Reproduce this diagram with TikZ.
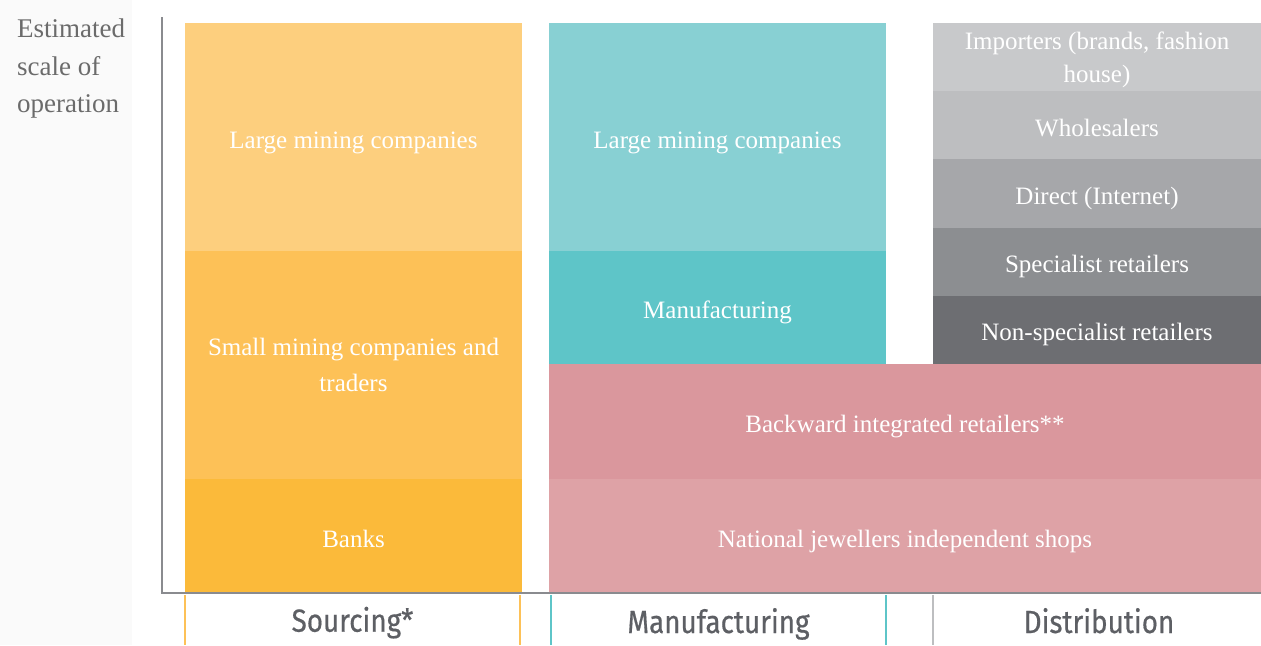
\documentclass[tikz,border=0pt]{standalone}
\usepackage{fontspec}
\setmainfont{Liberation Serif}
\newfontfamily\axisfont[FakeStretch=0.87,FakeBold=0.5]{Fira Sans}
\usetikzlibrary{positioning}

\definecolor{sand1}{HTML}{FDCF7E}
\definecolor{sand2}{HTML}{FDC157}
\definecolor{sand3}{HTML}{FBBA3A}
\definecolor{teal1}{HTML}{88D0D3}
\definecolor{teal2}{HTML}{5EC5C8}
\definecolor{rose1}{HTML}{DA979D}
\definecolor{rose2}{HTML}{DEA2A6}
\definecolor{grey1}{HTML}{C8C9CB}
\definecolor{grey2}{HTML}{BDBEC0}
\definecolor{grey3}{HTML}{A6A7AA}
\definecolor{grey4}{HTML}{8C8E91}
\definecolor{grey5}{HTML}{6D6E72}
\definecolor{axisgrey}{HTML}{8A8B8F}
\definecolor{labelgrey}{HTML}{5D5F64}
\definecolor{sidegrey}{HTML}{6B6B6B}

\begin{document}
\begin{tikzpicture}[
    x=0.5pt, y=-0.5pt,
    block/.style = {inner sep=0pt, outer sep=0pt, text=white, align=center,
      font=\fontsize{12.5}{18}\selectfont},
    oneline/.style = {text height=12pt, text depth=1pt},
    srcbox/.style  = {block, minimum width=168.5pt},
    mfgbox/.style  = {block, minimum width=168.5pt},
    retbox/.style  = {block, oneline, minimum width=356pt},
    distbox/.style = {block, minimum width=164pt, minimum height=34.1pt},
    phase/.style   = {font=\axisfont\fontsize{16}{18}\selectfont, text=labelgrey,
      text height=12pt, text depth=3pt},
    tick/.style    = {line width=1pt}
  ]
  % page and side panel
  \fill[white] (0,0) rectangle (1261,645);
  \fill[black!2] (0,0) rectangle (132,645);
  \useasboundingbox (0,0) rectangle (1261,645);

  \node[anchor=north west, align=left, text=sidegrey,
    font=\fontsize{13.5}{18.7}\selectfont] (scale) at (10,12)
    {Estimated\\scale of\\operation};

  % sourcing
  \node[srcbox, oneline, fill=sand1, minimum height=114pt, anchor=north west] (src1) at (185,23)
    {Large mining companies};
  \node[srcbox, fill=sand2, minimum height=114pt, below=0pt of src1] (src2)
    {Small mining companies and\\traders};
  \node[srcbox, oneline, fill=sand3, minimum height=57pt, below=0pt of src2] (src3)
    {Banks};

  % manufacturing
  \node[mfgbox, oneline, fill=teal1, minimum height=114pt, anchor=north west] (mfg1) at (549,23)
    {Large mining companies};
  \node[mfgbox, oneline, fill=teal2, minimum height=56.5pt, below=0pt of mfg1] (mfg2)
    {Manufacturing};

  % retailers across both columns
  \node[retbox, fill=rose1, minimum height=57.5pt, anchor=north west] (ret1)
    at (mfg2.south west) {Backward integrated retailers**};
  \node[retbox, fill=rose2, minimum height=57pt, below=0pt of ret1] (ret2)
    {National jewellers independent shops};

  % distribution
  \node[distbox, fill=grey1, anchor=north west,
    font=\fontsize{12.5}{16.5}\selectfont] (dst1) at (933,23)
    {\rule{0pt}{12pt}Importers (brands, fashion\\house)};
  \node[distbox, oneline, fill=grey2, below=0pt of dst1] (dst2) {Wholesalers};
  \node[distbox, oneline, fill=grey3, below=0pt of dst2] (dst3) {Direct (Internet)};
  \node[distbox, oneline, fill=grey4, below=0pt of dst3] (dst4) {Specialist retailers};
  \node[distbox, oneline, fill=grey5, below=0pt of dst4] (dst5) {Non-specialist retailers};

  % axes
  \coordinate (top) at (162,17);
  \coordinate (origin) at (162,593);
  \coordinate (right) at (1261,593);
  \draw[axisgrey, line width=1pt] (top) -- (origin) -- (right);

  % phase brackets
  \draw[tick, sand2] (185,595) -- (185,645) (520,595) -- (520,645);
  \draw[tick, teal2] (551,595) -- (551,645) (886,595) -- (886,645);
  \draw[tick, grey2] (933,595) -- (933,645);

  \node[phase] (sourcing) at (352.5,622.7) {Sourcing*};
  \node[phase] (making) at (718.5,624) {Manufacturing};
  \node[phase] (selling) at (1099,624) {Distribution};
\end{tikzpicture}
\end{document}
